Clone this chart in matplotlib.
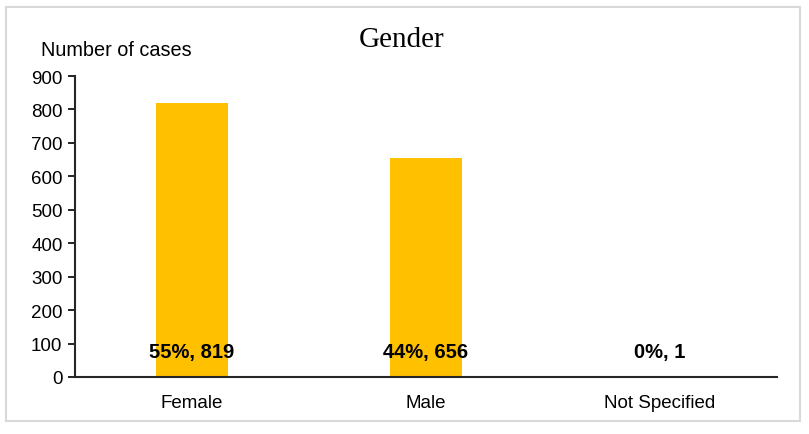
import matplotlib
matplotlib.use("Agg")
import matplotlib.pyplot as plt
from matplotlib.patches import Rectangle

categories = ["Female", "Male", "Not Specified"]
counts = [819, 656, 1]
shares = ["55%", "44%", "0%"]

plt.rcParams["font.family"] = ["Liberation Sans", "DejaVu Sans"]

fig = plt.figure(figsize=(8.09, 4.35), dpi=100)
# light grey frame round the whole chart
fig.patches.append(Rectangle((6 / 809, 1 - 422 / 435), 794 / 809, 414 / 435,
                             transform=fig.transFigure, fill=False,
                             edgecolor="#d9d9d9", linewidth=1.5))

ax = fig.add_axes([75 / 809, 1 - 378 / 435, 702 / 809, 301 / 435])
x = range(len(categories))
ax.bar(x, counts, width=0.31, color="#FFC000")
ax.set_xlim(-0.5, len(categories) - 0.5)
ax.set_ylim(0, 900)
ax.set_yticks(range(0, 901, 100))
ax.set_xticks(list(x))
ax.set_xticklabels(categories, fontsize=13.5)
ax.tick_params(axis="y", labelsize=13.5, length=5, width=1.2, pad=4)
ax.tick_params(axis="x", length=0, pad=12)

for s in ["top", "right"]:
    ax.spines[s].set_visible(False)
for s in ["left", "bottom"]:
    ax.spines[s].set_linewidth(1.5)
    ax.spines[s].set_color("#262626")

# share and count labels near the bar bases
for i, (c, p) in enumerate(zip(counts, shares)):
    ax.text(i, 75, f"{p}, {c}", ha="center", va="center", fontsize=14.5,
            fontweight="bold")

fig.text(402 / 809, 1 - 40 / 435, "Gender", ha="center", va="center",
         fontsize=21, family=["Liberation Serif", "DejaVu Serif"])
fig.text(41 / 809, 1 - 50 / 435, "Number of cases", ha="left", va="center",
         fontsize=14.3)

fig.savefig("out.png", dpi=100)
